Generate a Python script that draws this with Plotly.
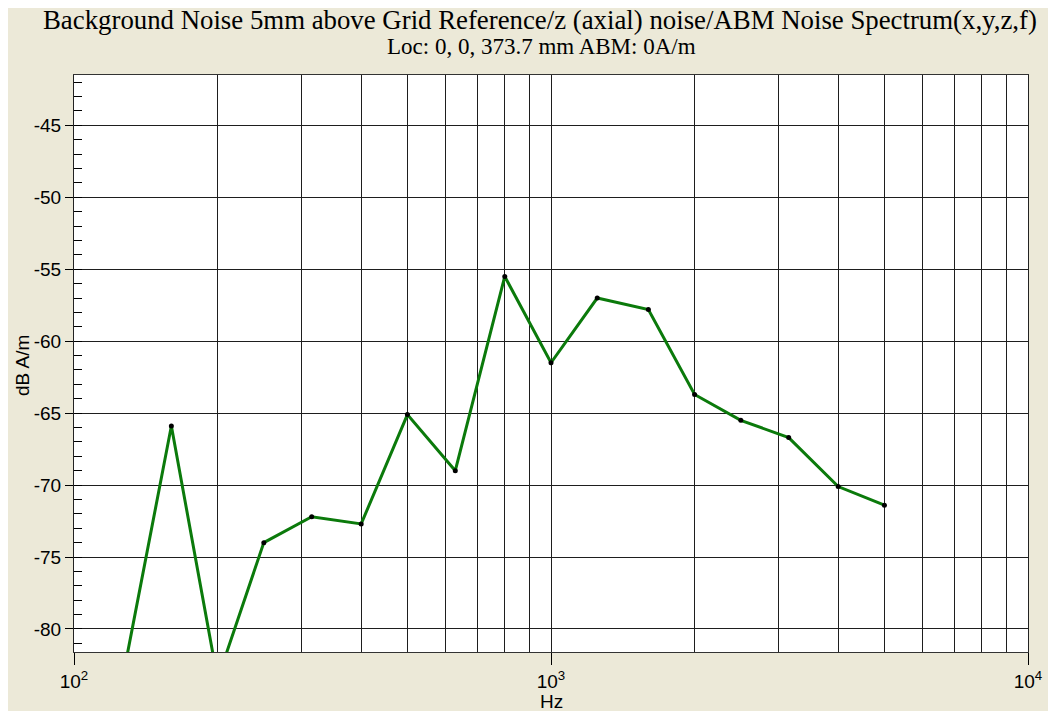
import plotly.graph_objects as go

# ---- data ----
freqs_hz = [125, 160, 200, 250, 315, 400, 500, 630, 800, 1000, 1250, 1600,
            2000, 2500, 3150, 4000, 5000]
noise_db = [-84.3, -65.9, -83.5, -74.0, -72.2, -72.7, -65.1, -69.0, -55.5,
            -61.5, -57.0, -57.8, -63.7, -65.5, -66.7, -70.1, -71.4]
x_tick_vals = [100, 1000, 10000]
x_tick_text = ["10<sup>2</sup>", "10<sup>3</sup>", "10<sup>4</sup>"]
x_minor_vals = [m * d for d in (100, 1000) for m in range(2, 10)]
y_tick_vals = [-80, -75, -70, -65, -60, -55, -50, -45]
y_tick_text = ["-80", "-75", "-70", "-65", "-60", "-55", "-50", "-45"]

title_main = "Background Noise 5mm above Grid Reference/z (axial) noise/ABM Noise Spectrum(x,y,z,f)"
title_sub = "Loc: 0, 0, 373.7 mm ABM: 0A/m"
x_title = "Hz"
y_title = "dB A/m"

BEIGE = "#ECE9D8"
GRID = "#1e1e1e"
FONT = "Liberation Sans, Arial, sans-serif"
SERIF = "Liberation Serif, Times New Roman, serif"

fig = go.Figure()
fig.add_trace(go.Scatter(
    x=freqs_hz, y=noise_db, mode="lines+markers",
    line=dict(color="#0b7a0b", width=3),
    marker=dict(color="#000000", size=5),
    showlegend=False,
))

# figure is placed at (8, 8) in the page by the default body margin
OFF = 8
W, H = 1048, 703
L, R, T, B = 66, 28, 67, 59
pw, ph = W - L - R, H - T - B


def px_x(page_x):
    return (page_x - OFF - L) / pw


def px_y(page_y):
    return (H - B - (page_y - OFF)) / ph


fig.update_layout(
    width=W, height=H,
    margin=dict(l=L, r=R, t=T, b=B, pad=0),
    paper_bgcolor=BEIGE,
    plot_bgcolor="#FFFFFF",
    font=dict(family=FONT, size=18, color="#000000"),
    annotations=[
        dict(text=title_main, xref="paper", yref="paper",
             x=px_x(540), y=px_y(20), xanchor="center", yanchor="middle",
             showarrow=False, font=dict(family=SERIF, size=26.8, color="#000")),
        dict(text=title_sub, xref="paper", yref="paper",
             x=px_x(541), y=px_y(47), xanchor="center", yanchor="middle",
             showarrow=False, font=dict(family=SERIF, size=23, color="#000")),
        dict(text=x_title, xref="paper", yref="paper",
             x=px_x(551), y=px_y(701), xanchor="center", yanchor="middle",
             showarrow=False, font=dict(family=FONT, size=19, color="#000")),
        dict(text=y_title, xref="paper", yref="paper", textangle=-90,
             x=px_x(22), y=px_y(366), xanchor="center", yanchor="middle",
             showarrow=False, font=dict(family=FONT, size=19, color="#000")),
    ],
)

fig.update_xaxes(
    type="log", range=[2, 4],
    tickvals=x_tick_vals, ticktext=x_tick_text,
    ticks="outside", ticklen=12, tickcolor="#000", tickwidth=1,
    showgrid=True, gridcolor=GRID, gridwidth=1,
    minor=dict(tickvals=x_minor_vals, showgrid=True, gridcolor=GRID,
               gridwidth=1, ticks=""),
    showline=True, linecolor="#333", linewidth=1, mirror=True,
    zeroline=False, tickfont=dict(size=19),
)
fig.update_yaxes(
    range=[-81.6, -41.5],
    tickvals=y_tick_vals, ticktext=y_tick_text,
    ticks="outside", ticklen=8, tickcolor="#000", tickwidth=1,
    showgrid=True, gridcolor=GRID, gridwidth=1,
    minor=dict(dtick=1, tick0=0, ticks="inside", ticklen=8,
               tickcolor="#000", showgrid=False),
    showline=True, linecolor="#222", linewidth=1, mirror=True,
    zeroline=False, tickfont=dict(size=19),
)

fig.write_html("out.html")
